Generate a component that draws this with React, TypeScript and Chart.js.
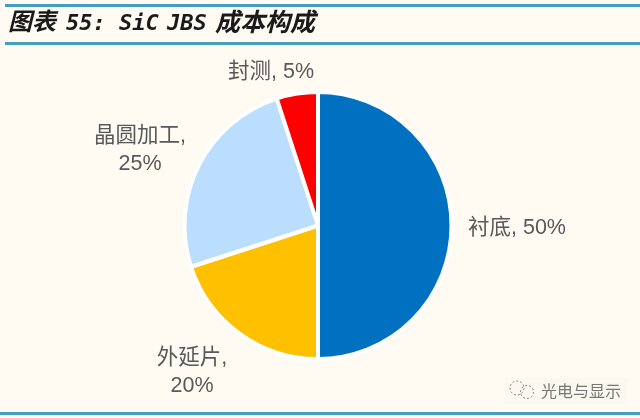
import { useEffect, useRef } from "react"
import { Chart, registerables, type Plugin } from "chart.js"

Chart.register(...registerables)

const categories = ["衬底", "外延片", "晶圆加工", "封测"]
const shares = [50, 20, 25, 5]
const sliceColors = ["#0070C0", "#FFC000", "#BBDEFF", "#FF0000"]

const watermarkText = "光电与显示"

const cjk = '"Noto Sans CJK SC"'
const labelFont = `21.5px "Liberation Sans", ${cjk}`

// title is set in runs since the latin and the Chinese have different widths
const titleRuns = [
  { text: "图表", x: 8, size: 24 },
  { text: "55:", x: 66, size: 22 },
  { text: "SiC", x: 119, size: 22 },
  { text: "JBS", x: 167, size: 22 },
  { text: "成本构成", x: 215, size: 25 },
]

// where each label sits, as lines of text centred on a point
const labelBoxes = [
  { lines: ["衬底, 50%"], x: 517, y: 228 },
  { lines: ["外延片,", "20%"], x: 192, y: 372 },
  { lines: ["晶圆加工,", "25%"], x: 140, y: 150 },
  { lines: ["封测, 5%"], x: 271, y: 72 },
]

const pageDecor: Plugin<"pie"> = {
  id: "pageDecor",
  beforeDraw(chart) {
    const { ctx, width, height } = chart
    ctx.save()
    ctx.fillStyle = "#FFFBF2"
    ctx.fillRect(0, 0, width, height)

    // rules above and below the title, and at the foot
    ctx.fillStyle = "#429FBF"
    ctx.fillRect(5, 4, 635, 3)
    ctx.fillRect(5, 42, 635, 3)
    ctx.fillRect(0, 412, 640, 3)

    ctx.fillStyle = "#1A1A1A"
    ctx.textBaseline = "middle"
    titleRuns.forEach((run) => {
      ctx.font = `italic bold ${run.size}px "DejaVu Sans Mono", ${cjk}`
      ctx.fillText(run.text, run.x, 24)
    })
    ctx.restore()
  },
  afterDraw(chart) {
    const { ctx } = chart
    ctx.save()
    ctx.fillStyle = "#595959"
    ctx.font = labelFont
    ctx.textAlign = "center"
    ctx.textBaseline = "middle"
    labelBoxes.forEach((box) => {
      box.lines.forEach((line, i) => {
        const top = box.y - ((box.lines.length - 1) * 28) / 2
        ctx.fillText(line, box.x, top + i * 28)
      })
    })

    // watermark
    ctx.fillStyle = "#FBF8F0"
    ctx.fillRect(505, 378, 122, 26)
    ctx.strokeStyle = "#8A8A8A"
    ctx.lineWidth = 1
    ctx.setLineDash([2, 2])
    ctx.beginPath()
    ctx.arc(517, 388, 7, 0, Math.PI * 2)
    ctx.stroke()
    ctx.beginPath()
    ctx.arc(527, 392, 6.5, 0, Math.PI * 2)
    ctx.stroke()
    ctx.setLineDash([])
    ctx.fillStyle = "#777777"
    ctx.font = `16px ${cjk}`
    ctx.textAlign = "left"
    ctx.fillText(watermarkText, 541, 391)
    ctx.restore()
  },
}

export default function App() {
  const canvasRef = useRef<HTMLCanvasElement>(null)

  useEffect(() => {
    if (!canvasRef.current) return
    document.body.style.margin = "0"

    const chart = new Chart(canvasRef.current, {
      type: "pie",
      data: {
        labels: categories,
        datasets: [
          {
            data: shares,
            backgroundColor: sliceColors,
            borderColor: "#FFFFFF",
            borderWidth: 4,
          },
        ],
      },
      options: {
        responsive: false,
        animation: false,
        layout: { padding: { left: 182, right: 186, top: 90, bottom: 57 } },
        plugins: {
          legend: { display: false },
          tooltip: { enabled: false },
        },
      },
      plugins: [pageDecor],
    })

    return () => chart.destroy()
  }, [])

  return <canvas ref={canvasRef} width={640} height={418} style={{ display: "block" }} />
}
